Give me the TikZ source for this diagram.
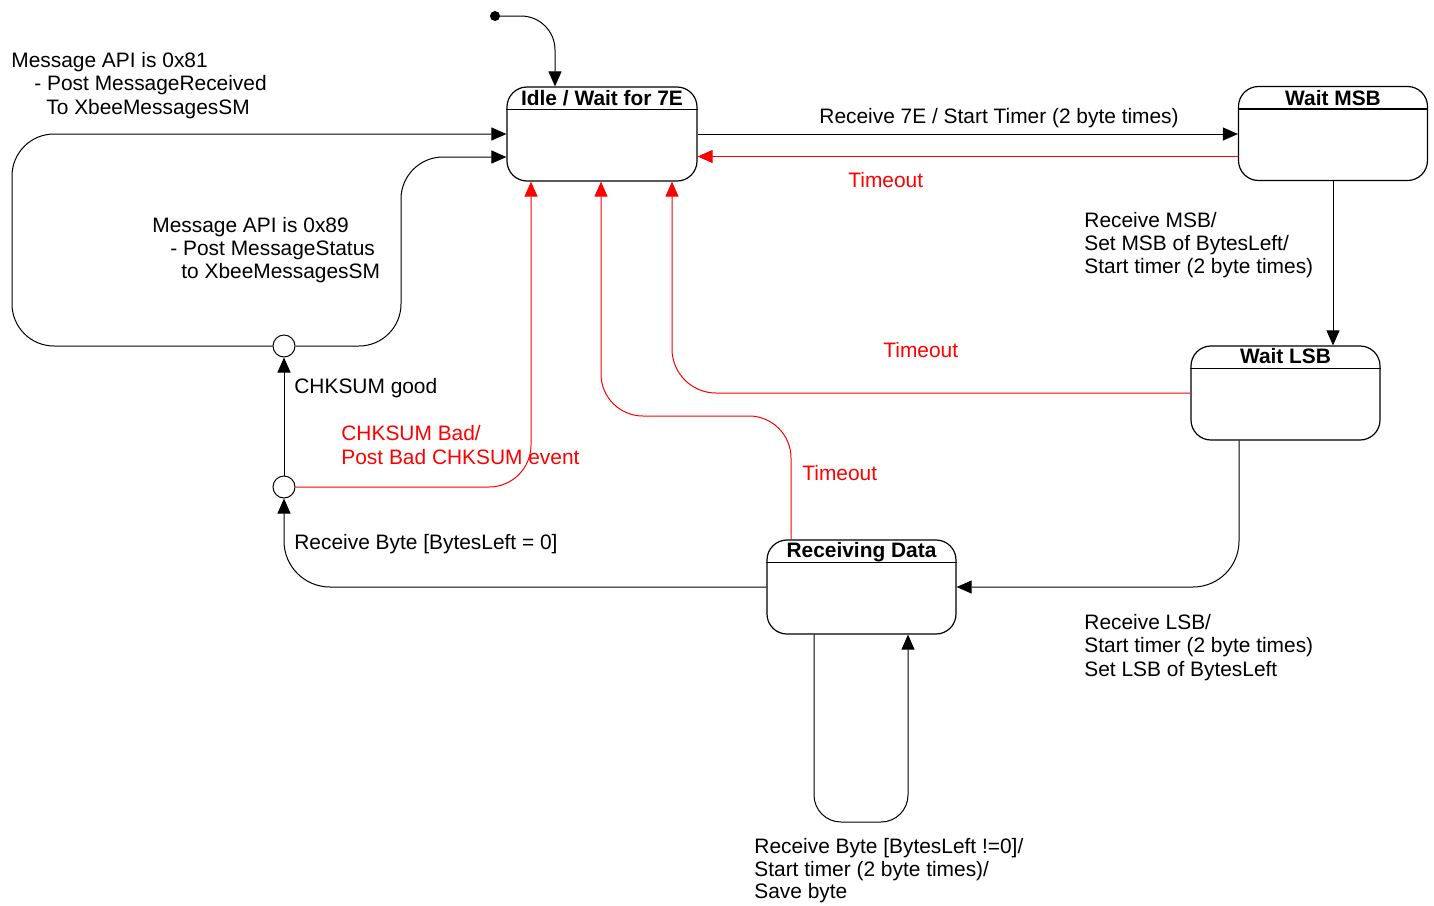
\documentclass[tikz,border=0pt]{standalone}
\usepackage{fontspec}
\setmainfont{Liberation Sans}
\usetikzlibrary{arrows.meta}
\definecolor{evred}{RGB}{255,0,0}
\begin{document}
\begin{tikzpicture}[x=0.5pt,y=-0.5pt,
  every node/.style={font=\fontsize{10.45pt}{11.5pt}\selectfont},
  stbox/.style={draw, line width=0.6pt, rounded corners=10pt, minimum width=94.5pt, minimum height=47pt, inner sep=0pt},
  sttitle/.style={anchor=base, inner sep=0pt, font=\fontsize{10.45pt}{11.5pt}\selectfont\bfseries},
  pseudo/.style={circle, draw, fill=white, line width=0.5pt, minimum size=11pt, inner sep=0pt},
  startdot/.style={circle, fill=black, minimum size=5pt, inner sep=0pt},
  lbl/.style={anchor=base west, inner sep=0pt},
  rlbl/.style={lbl, text=evred},
  arr/.style={-{Triangle[length=7.5pt,width=6.5pt]}, line width=0.5pt},
  rarr/.style={arr, draw=evred}]
\useasboundingbox (0,0) rectangle (1434,905);

% states
\node[stbox, minimum width=95pt] (idle) at (602,134) {};
\node[stbox] (wmsb) at (1333,133.5) {};
\node[stbox] (wlsb) at (1285.5,393) {};
\node[stbox] (recv) at (861.5,587) {};
\foreach \s in {idle,wmsb,wlsb,recv}
  \draw[line width=0.6pt] ([yshift=-11.5pt]\s.north west) -- ([yshift=-11.5pt]\s.north east);
\node[sttitle] (idleT) at ([yshift=-9.5pt]idle.north) {Idle / Wait for 7E};
\node[sttitle] (wmsbT) at ([yshift=-10pt]wmsb.north) {Wait MSB};
\node[sttitle] (wlsbT) at ([yshift=-9pt]wlsb.north) {Wait LSB};
\node[sttitle] (recvT) at ([yshift=-9pt]recv.north) {Receiving Data};

% pseudo states
\node[startdot] (init) at (495,16) {};
\node[pseudo] (c1) at (284,346) {};
\node[pseudo] (c2) at (284,487) {};

% transitions
\draw[arr, rounded corners=17pt] (init.center) -- (555,16) -- ([xshift=-23.5pt]idle.north);
\draw[arr, rounded corners=21pt] (c1.west) -- (12,346) -- (12,134) -- (idle.west);
\draw[arr, rounded corners=21pt] (c1.east) -- (401,346) -- (401,157) -- ([yshift=-11.5pt]idle.west);
\draw[arr] (c2) -- (c1);
\draw[rarr, rounded corners=21pt] (c2.east) -- (531,487) -- ([xshift=-35.5pt]idle.south);
\draw[rarr, rounded corners=21pt] ([xshift=-35.25pt]recv.north) -- (791,416) -- (601,416) -- ([xshift=-0.5pt]idle.south);
\draw[rarr, rounded corners=22pt] (wlsb.west) -- (672,393) -- ([xshift=35pt]idle.south);
\draw[arr] (idle.east) -- (idle.east -| wmsb.west);
\draw[rarr] ([yshift=-11.5pt]wmsb.west) -- ([yshift=-11.5pt]wmsb.west -| idle.east);
\draw[arr] (wmsb.south) -- (wmsb.south |- wlsb.north);
\draw[arr, rounded corners=23pt] ([xshift=-23.25pt]wlsb.south) -- (1239,587) -- (recv.east);
\draw[arr, rounded corners=23pt] (recv.west) -- (284,587) -- (c2.south);
\draw[arr, rounded corners=13.5pt] ([xshift=-23.75pt]recv.south) -- (814,822) -- (908,822) -- ([xshift=23.25pt]recv.south);

% transition labels
\node[lbl] (m81a) at (11,67) {Message API is 0x81};
\node[lbl] (m81b) at (34,90) {- Post MessageReceived};
\node[lbl] (m81c) at (46,114) {To XbeeMessagesSM};
\node[lbl] (m89a) at (152,232) {Message API is 0x89};
\node[lbl] (m89b) at (170,255) {- Post MessageStatus};
\node[lbl] (m89c) at (181,278) {to XbeeMessagesSM};
\node[lbl] (r7e) at (819,123) {Receive 7E / Start Timer (2 byte times)};
\node[rlbl] (to1) at (848,187) {Timeout};
\node[lbl] (msba) at (1084,227) {Receive MSB/};
\node[lbl] (msbb) at (1084,250) {Set MSB of BytesLeft/};
\node[lbl] (msbc) at (1084,273) {Start timer (2 byte times)};
\node[rlbl] (to2) at (883,357) {Timeout};
\node[lbl] (good) at (294,393) {CHKSUM good};
\node[rlbl] (bada) at (341,440) {CHKSUM Bad/};
\node[rlbl] (badb) at (341,464) {Post Bad CHKSUM event};
\node[rlbl] (to3) at (802,480) {Timeout};
\node[lbl] (rb0) at (294,549) {Receive Byte [BytesLeft = 0]};
\node[lbl] (lsba) at (1084,629) {Receive LSB/};
\node[lbl] (lsbb) at (1084,652) {Start timer (2 byte times)};
\node[lbl] (lsbc) at (1084,676) {Set LSB of BytesLeft};
\node[lbl] (rbna) at (754,853) {Receive Byte [BytesLeft !=0]/};
\node[lbl] (rbnb) at (754,876) {Start timer (2 byte times)/};
\node[lbl] (rbnc) at (754,898) {Save byte};
\end{tikzpicture}
\end{document}
